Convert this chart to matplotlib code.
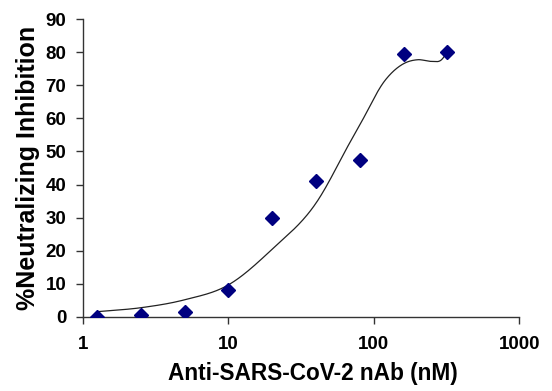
import numpy as np
import matplotlib
matplotlib.use("Agg")
import matplotlib.pyplot as plt

# Measured data
conc = [1.25, 2.5, 5, 10, 20, 40, 80, 160, 320]
inhibition = [0.1, 0.7, 1.5, 8.0, 30.0, 41.0, 47.4, 79.4, 80.0]

# Fitted curve
curve_x = [1.25, 2.5, 5, 10, 20, 40, 70, 80, 120, 160, 200, 250, 290, 320]
curve_y = [1.6, 2.8, 5.2, 9.7, 20.5, 34.4, 53.5, 58.0, 71.6, 76.5, 77.7, 77.2, 77.6, 80.0]

x_ticks = [1, 10, 100, 1000]
x_ticklabels = ["1", "10", "100", "1000"]
y_ticks = list(range(0, 91, 10))


def hermite_smooth(xs, ys, n=40):
    """Smooth cubic Hermite through the read curve points (in log-x)."""
    x = np.log10(np.asarray(xs, float))
    y = np.asarray(ys, float)
    h = np.diff(x)
    d = np.diff(y) / h
    m = np.empty_like(y)
    m[0] = d[0]
    m[-1] = d[-1]
    m[1:-1] = (h[:-1] * d[1:] + h[1:] * d[:-1]) / (h[:-1] + h[1:])
    xo, yo = [], []
    for k in range(len(h)):
        t = np.linspace(0, 1, n, endpoint=False)
        h00 = 2 * t**3 - 3 * t**2 + 1
        h10 = t**3 - 2 * t**2 + t
        h01 = -2 * t**3 + 3 * t**2
        h11 = t**3 - t**2
        xo.append(x[k] + t * h[k])
        yo.append(h00 * y[k] + h10 * h[k] * m[k] + h01 * y[k + 1] + h11 * h[k] * m[k + 1])
    xo.append([x[-1]])
    yo.append([y[-1]])
    return 10 ** np.concatenate(xo), np.concatenate(yo)


plt.rcParams['font.family'] = ['Liberation Sans', 'DejaVu Sans']

fig = plt.figure(figsize=(5.52, 3.91), dpi=100)
ax = fig.add_axes([0.1504, 0.1893, 0.7904, 0.7621])

cx, cy = hermite_smooth(curve_x, curve_y)
ax.plot(cx, cy, color='#222222', lw=0.9, zorder=2)
ax.plot(conc, inhibition, linestyle='none', marker='D', ms=7, color='#000080',
        markeredgecolor='#000080', zorder=3)

ax.set_xscale('log')
ax.set_xlim(1, 1000)
ax.set_ylim(0, 90)
ax.set_xticks(x_ticks)
ax.set_xticklabels(x_ticklabels)
ax.xaxis.set_minor_locator(matplotlib.ticker.NullLocator())
ax.set_yticks(y_ticks)

for s in ['top', 'right']:
    ax.spines[s].set_visible(False)
for s in ['left', 'bottom']:
    ax.spines[s].set_linewidth(1.0)
    ax.spines[s].set_color('#333333')

ax.tick_params(axis='both', direction='out', length=5, width=1.0, color='#333333',
               labelsize=13.5)
ax.tick_params(axis='x', pad=8.5)
ax.tick_params(axis='y', pad=7)
for lab in ax.get_xticklabels() + ax.get_yticklabels():
    lab.set_fontweight('bold')

ax.set_xlabel('Anti-SARS-CoV-2 nAb (nM)', fontsize=16.3, fontweight='bold', labelpad=7)
ax.xaxis.label.set_x(0.527)
ax.set_ylabel('%Neutralizing Inhibition', fontsize=18, fontweight='bold', labelpad=4)

fig.savefig('out.png', dpi=100)
